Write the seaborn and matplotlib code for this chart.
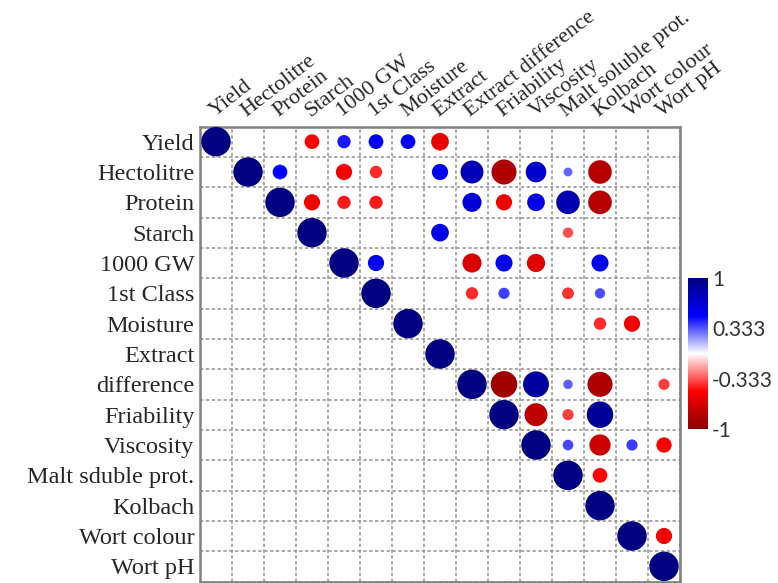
import numpy as np
import pandas as pd
import matplotlib
matplotlib.use("Agg")
import matplotlib.pyplot as plt
import seaborn as sns
from matplotlib.colors import LinearSegmentedColormap, Normalize
from matplotlib.colorbar import ColorbarBase

# labels (row labels differ: "Extract difference" got split over two rows)
col_labels = ["Yield", "Hectolitre", "Protein", "Starch", "1000 GW", "1st Class",
              "Moisture", "Extract", "Extract difference", "Friability", "Viscosity",
              "Malt soluble prot.", "Kolbach", "Wort colour", "Wort pH"]
row_labels = ["Yield", "Hectolitre", "Protein", "Starch", "1000 GW", "1st Class",
              "Moisture", "Extract", "difference", "Friability", "Viscosity",
              "Malt sduble prot.", "Kolbach", "Wort colour", "Wort pH"]

# upper triangle of the correlation matrix, 0 = not shown
corr = [
    [1, 0, 0, -0.50, 0.45, 0.50, 0.50, -0.60, 0, 0, 0, 0, 0, 0, 0],
    [0, 1, 0.50, 0, -0.55, -0.42, 0, 0.55, 0.78, -0.85, 0.70, 0.30, -0.80, 0, 0],
    [0, 0, 1, -0.55, -0.45, -0.45, 0, 0, 0.65, -0.55, 0.60, 0.80, -0.80, 0, 0],
    [0, 0, 0, 1, 0, 0, 0, 0.60, 0, 0, 0, -0.35, 0, 0, 0],
    [0, 0, 0, 0, 1, 0.55, 0, 0, -0.65, 0.58, -0.62, 0, 0.58, 0, 0],
    [0, 0, 0, 0, 0, 1, 0, 0, -0.42, 0.38, 0, -0.40, 0.35, 0, 0],
    [0, 0, 0, 0, 0, 0, 1, 0, 0, 0, 0, 0, -0.42, -0.55, 0],
    [0, 0, 0, 0, 0, 0, 0, 1, 0, 0, 0, 0, 0, 0, 0],
    [0, 0, 0, 0, 0, 0, 0, 0, 1, -0.90, 0.88, 0.32, -0.85, 0, -0.38],
    [0, 0, 0, 0, 0, 0, 0, 0, 0, 1, -0.78, -0.38, 0.90, 0, 0],
    [0, 0, 0, 0, 0, 0, 0, 0, 0, 0, 1, 0.36, -0.72, 0.38, -0.52],
    [0, 0, 0, 0, 0, 0, 0, 0, 0, 0, 0, 1, -0.50, 0, 0],
    [0, 0, 0, 0, 0, 0, 0, 0, 0, 0, 0, 0, 1, 0, 0],
    [0, 0, 0, 0, 0, 0, 0, 0, 0, 0, 0, 0, 0, 1, -0.55],
    [0, 0, 0, 0, 0, 0, 0, 0, 0, 0, 0, 0, 0, 0, 1],
]

n = len(col_labels)
rows = []
for i in range(n):
    for j in range(n):
        if corr[i][j] != 0:
            rows.append({"x": j, "y": i, "r": corr[i][j], "area": corr[i][j] ** 2})
df = pd.DataFrame(rows)

sns.set_style("white")
plt.rcParams['font.family'] = ['Liberation Serif', 'DejaVu Serif']

cmap = LinearSegmentedColormap.from_list(
    "rwb", ["#8b0000", "#ff0000", "#ffffff", "#0000ff", "#000080"])
norm = Normalize(-1, 1)

fig = plt.figure(figsize=(7.78, 5.83), dpi=100)
ax = fig.add_axes([200 / 778, 1.5 / 583, 480 / 778, 455 / 583])

sns.scatterplot(data=df, x="x", y="y", hue="r", palette=cmap, hue_norm=(-1, 1),
                size="area", sizes=(0, 450), size_norm=(0, 1),
                edgecolor="none", legend=False, ax=ax, zorder=3)

ax.set_xlim(-0.5, n - 0.5)
ax.set_ylim(n - 0.5, -0.5)
ax.set_xlabel("")
ax.set_ylabel("")

# dashed cell grid
ax.set_xticks(np.arange(-0.5, n, 1), minor=True)
ax.set_yticks(np.arange(-0.5, n, 1), minor=True)
ax.grid(which="minor", color="#999999", linestyle=(0, (2, 1.5)), linewidth=1.2)
ax.grid(which="major", visible=False)
ax.tick_params(which="both", length=0)

ax.set_xticks([])
ax.set_yticks(range(n))
ax.set_yticklabels(row_labels, fontsize=17.5)
ax.tick_params(axis="y", pad=4)

for j, lab in enumerate(col_labels):
    ax.text(j - 0.05, -0.8, lab, rotation=38, ha="left", va="baseline",
            rotation_mode="anchor", fontsize=16)

for s in ax.spines.values():
    s.set_color("#808080")
    s.set_linewidth(1.8)

# colour bar
cax = fig.add_axes([688 / 778, (583 - 429) / 583, 20 / 778, 151 / 583])
cb = ColorbarBase(cax, cmap=cmap, norm=norm, ticks=[-1, -0.333, 0.333, 1])
cb.set_ticklabels(["-1", "-0.333", "0.333", "1"])
cb.outline.set_visible(False)
cax.tick_params(length=0, pad=3)
for t in cax.get_yticklabels():
    t.set_family("Lato")
    t.set_fontsize(15)
    t.set_color("#333333")

fig.savefig("out.png", dpi=100, facecolor="white")
